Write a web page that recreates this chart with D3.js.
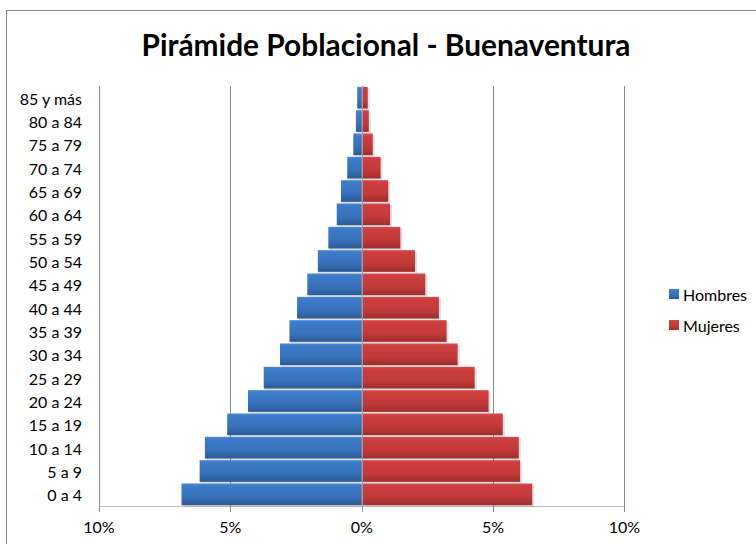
<!DOCTYPE html>
<html>
<head>
<meta charset="utf-8">
<script src="https://cdn.jsdelivr.net/npm/d3@7"></script>
<style>
  html, body { margin: 0; padding: 0; background: #fff; }
  svg { display: block; }
  text { font-family: Lato, "Open Sans", sans-serif; fill: #000; }
</style>
</head>
<body>
<svg id="chart" width="756" height="544"></svg>
<script>
const title = "Pirámide Poblacional - Buenaventura";
const ageGroups = ["0 a 4","5 a 9","10 a 14","15 a 19","20 a 24","25 a 29","30 a 34","35 a 39","40 a 44","45 a 49","50 a 54","55 a 59","60 a 64","65 a 69","70 a 74","75 a 79","80 a 84","85 y más"];
const hombres = [6.86, 6.17, 5.97, 5.12, 4.33, 3.73, 3.11, 2.75, 2.46, 2.07, 1.67, 1.27, 0.95, 0.79, 0.55, 0.32, 0.22, 0.17];
const mujeres = [6.49, 6.03, 5.98, 5.37, 4.83, 4.30, 3.65, 3.23, 2.94, 2.42, 2.03, 1.47, 1.08, 1.01, 0.72, 0.42, 0.27, 0.23];
const seriesNames = ["Hombres", "Mujeres"];
const tickValues = [-10, -5, 0, 5, 10];

const svg = d3.select("#chart");
const L = 99, R = 624.4, T = 86, B = 506;

// chart border (extends beyond visible area on right/bottom)
svg.append("rect").attr("x", 6.5).attr("y", 10.5).attr("width", 800).attr("height", 600)
  .attr("fill", "#fff").attr("stroke", "#878787").attr("stroke-width", 1);

const defs = svg.append("defs");
function grad(id, stops) {
  const g = defs.append("linearGradient").attr("id", id).attr("x1", 0).attr("y1", 0).attr("x2", 0).attr("y2", 1);
  stops.forEach(([o, c]) => g.append("stop").attr("offset", o).attr("stop-color", c));
}
grad("gBlue", [[0, "#4a88d6"], [0.12, "#3d7bc9"], [0.6, "#3872bb"], [1, "#2c5b96"]]);
grad("gRed", [[0, "#d84a4a"], [0.12, "#cd3e3e"], [0.6, "#c33a3a"], [1, "#9e2d2d"]]);

const x = d3.scaleLinear().domain([-10, 10]).range([L, R]);
const y = d3.scaleBand().domain(ageGroups.slice().reverse()).range([T, B]).paddingInner(0.07).paddingOuter(0.035);

// vertical gridlines
svg.append("g").selectAll("line").data(tickValues.filter(v => v !== 0 && v !== -10)).join("line")
  .attr("x1", d => Math.round(x(d)) + 0.5).attr("x2", d => Math.round(x(d)) + 0.5)
  .attr("y1", T).attr("y2", B + 6)
  .attr("stroke", "#8c8c8c").attr("stroke-width", 1);

// bottom axis line
svg.append("line").attr("x1", L).attr("x2", R).attr("y1", B + 0.5).attr("y2", B + 0.5)
  .attr("stroke", "#c0c0c0").attr("stroke-width", 1);
// tick marks
svg.append("g").selectAll("line").data(tickValues).join("line")
  .attr("x1", d => Math.round(x(d)) + 0.5).attr("x2", d => Math.round(x(d)) + 0.5)
  .attr("y1", B).attr("y2", B + 6)
  .attr("stroke", "#8c8c8c").attr("stroke-width", 1);

// left axis line
svg.append("line").attr("x1", Math.round(L) + 0.5).attr("x2", Math.round(L) + 0.5).attr("y1", T).attr("y2", B + 6)
  .attr("stroke", "#8c8c8c").attr("stroke-width", 1);

const rows = ageGroups.map((g, i) => ({ g, h: hombres[i], m: mujeres[i] }));

// shadows
const sh = svg.append("g").attr("fill", "#000").attr("opacity", 0.12);
sh.selectAll("rect.sh").data(rows).join("rect")
  .attr("x", d => x(-d.h) + 1).attr("y", d => y(d.g) + 1.5)
  .attr("width", d => x(0) - x(-d.h)).attr("height", y.bandwidth());
sh.selectAll("rect.sm").data(rows).join("rect")
  .attr("x", x(0) + 1).attr("y", d => y(d.g) + 1.5)
  .attr("width", d => x(d.m) - x(0) + 1).attr("height", y.bandwidth());

svg.append("g").selectAll("rect").data(rows).join("rect")
  .attr("x", d => x(-d.h)).attr("y", d => y(d.g))
  .attr("width", d => x(0) - x(-d.h)).attr("height", y.bandwidth())
  .attr("fill", "url(#gBlue)");
svg.append("g").selectAll("rect").data(rows).join("rect")
  .attr("x", x(0)).attr("y", d => y(d.g))
  .attr("width", d => x(d.m) - x(0)).attr("height", y.bandwidth())
  .attr("fill", "url(#gRed)");

// zero line
svg.append("line").attr("x1", Math.round(x(0)) + 0.5).attr("x2", Math.round(x(0)) + 0.5)
  .attr("y1", T).attr("y2", B + 6).attr("stroke", "#8aa0bb").attr("stroke-width", 1);

const labelSize = 16;
// category labels
svg.append("g").selectAll("text").data(ageGroups).join("text")
  .attr("x", 82).attr("y", d => y(d) + y.bandwidth() / 2 + 0.5)
  .attr("text-anchor", "end").attr("dominant-baseline", "central")
  .style("font-size", labelSize + "px").attr("fill", "#1a1a1a")
  .text(d => d);

// x tick labels
svg.append("g").selectAll("text").data(tickValues).join("text")
  .attr("x", d => x(d)).attr("y", 533)
  .attr("text-anchor", "middle")
  .style("font-size", labelSize + "px").attr("fill", "#1a1a1a")
  .text(d => Math.abs(d) + "%");

// title
const t = svg.append("text").attr("x", 386).attr("y", 56).attr("text-anchor", "middle")
  .style("font-size", "28px").style("font-weight", "bold").text(title);
const w = t.node().getComputedTextLength();
t.style("font-size", (28 * 489 / w).toFixed(2) + "px");

// legend
const colors = ["url(#gBlue)", "url(#gRed)"];
const lg = svg.append("g").selectAll("g").data(seriesNames).join("g")
  .attr("transform", (d, i) => `translate(669, ${289 + i * 31})`);
lg.append("rect").attr("width", 10).attr("height", 10).attr("fill", (d, i) => colors[i]);
lg.append("text").attr("x", 14).attr("y", 5.5).attr("dominant-baseline", "central")
  .style("font-size", labelSize + "px").attr("fill", "#1a1a1a").text(d => d);
</script>
</body>
</html>
